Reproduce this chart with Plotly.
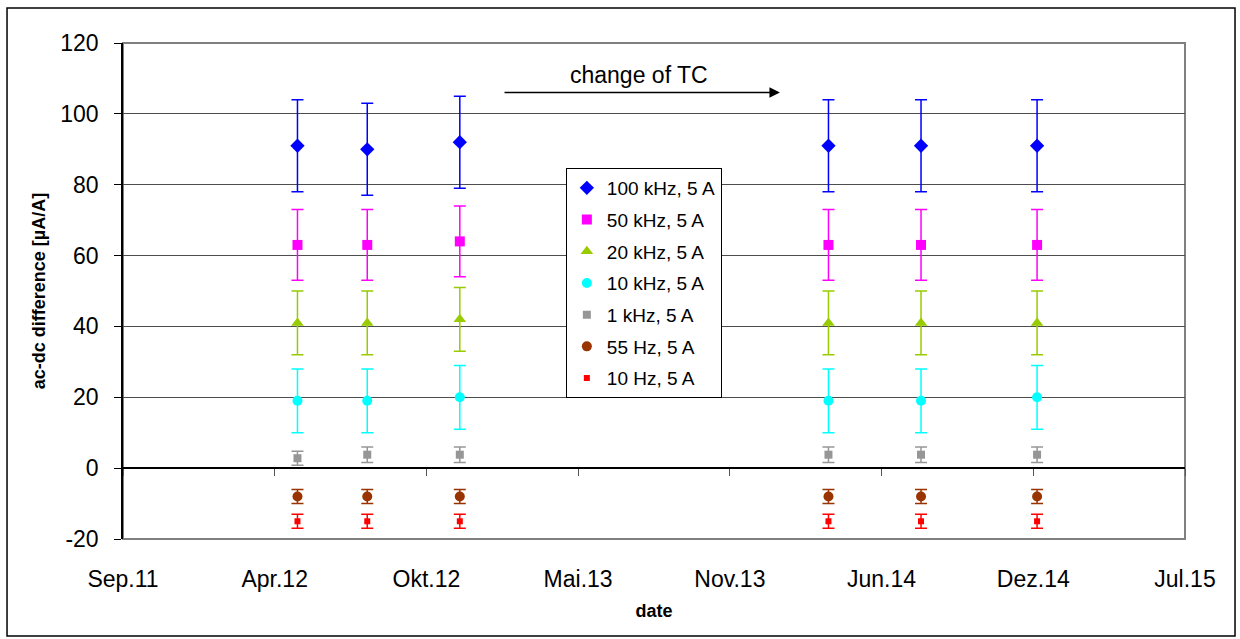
import plotly.graph_objects as go

# ---------------- data ----------------
dates = ["2012-05-01", "2012-08-01", "2012-12-01", "2014-04-01", "2014-08-01", "2015-01-01"]

series_names = ["100 kHz, 5 A", "50 kHz, 5 A", "20 kHz, 5 A", "10 kHz, 5 A",
                "1 kHz, 5 A", "55 Hz, 5 A", "10 Hz, 5 A"]

v_100k = [91, 90, 92, 91, 91, 91]
e_100k = [13, 13, 13, 13, 13, 13]
v_50k = [63, 63, 64, 63, 63, 63]
e_50k = [10, 10, 10, 10, 10, 10]
v_20k = [41, 41, 42, 41, 41, 41]
e_20k = [9, 9, 9, 9, 9, 9]
v_10k = [19, 19, 20, 19, 19, 20]
e_10k = [9, 9, 9, 9, 9, 9]
v_1k = [2.8, 3.8, 3.8, 3.8, 3.8, 3.8]
e_1k = [2.0, 2.2, 2.2, 2.2, 2.2, 2.2]
v_55 = [-8, -8, -8, -8, -8, -8]
e_55 = [2, 2, 2, 2, 2, 2]
v_10 = [-15, -15, -15, -15, -15, -15]
e_10 = [2, 2, 2, 2, 2, 2]

x_range = ["2011-09-14", "2015-07-15"]
x_tickvals = ["2011-09-14", "2012-04-01", "2012-10-18", "2013-05-06",
              "2013-11-22", "2014-06-10", "2014-12-27", "2015-07-15"]
x_ticktext = ["Sep.11", "Apr.12", "Okt.12", "Mai.13", "Nov.13", "Jun.14", "Dez.14", "Jul.15"]
y_range = [-20, 120]
y_tickvals = [-20, 0, 20, 40, 60, 80, 100, 120]
y_ticktext = ["-20", "0", "20", "40", "60", "80", "100", "120"]

tc_arrow_start = ("2013-01-27", 106)
tc_arrow_end = ("2014-01-27", 106)
tc_label_pos = ("2013-07-25", 111)

# ---------------- styles ----------------
values = [v_100k, v_50k, v_20k, v_10k, v_1k, v_55, v_10]
errors = [e_100k, e_50k, e_20k, e_10k, e_1k, e_55, e_10]
colors = ["#0000FF", "#FF00FF", "#99CC00", "#00FFFF", "#969696", "#993300", "#FF0000"]
symbols = ["diamond", "square", "triangle-up", "circle", "square", "circle", "square"]
sizes = [11, 10, 11, 10, 8, 10, 6]

FONT = "Liberation Sans, Arial, sans-serif"

fig = go.Figure()
for i in range(len(values)):
    fig.add_trace(go.Scatter(
        x=dates, y=values[i], name=series_names[i], mode="markers",
        legendgroup=f"g{i}",
        marker=dict(symbol=symbols[i], size=sizes[i], color=colors[i]),
        error_y=dict(type="data", array=errors[i], color=colors[i], thickness=1.5, width=6),
    ))

# dummy trace so that the zero-crossing tick axis is rendered
fig.add_trace(go.Scatter(x=[x_range[0]], y=[None], xaxis="x2", showlegend=False,
                         hoverinfo="skip", mode="markers"))

zero_pos = (0 - y_range[0]) / (y_range[1] - y_range[0])

fig.update_layout(
    width=1240, height=639,
    margin=dict(l=123, r=55, t=43, b=100, autoexpand=False),
    paper_bgcolor="white", plot_bgcolor="white",
    font=dict(family=FONT, color="black", size=23),
    showlegend=True,
    legend=dict(x=0.417, y=0.748, xanchor="left", yanchor="top",
                bgcolor="white", bordercolor="black", borderwidth=1,
                font=dict(size=19, family=FONT), traceorder="grouped",
                tracegroupgap=4, itemwidth=30),
    xaxis=dict(type="date", range=x_range, tickvals=x_tickvals, ticktext=x_ticktext,
               showgrid=False, showline=False, zeroline=False, ticks="",
               ticklabelstandoff=24, tickfont=dict(size=23),
               title=dict(text="<b>date</b>", font=dict(size=18), standoff=13)),
    xaxis2=dict(type="date", range=x_range, tickvals=x_tickvals, overlaying="x",
                anchor="free", position=zero_pos, showgrid=False,
                showline=True, linecolor="black", linewidth=1.5,
                ticks="outside", ticklen=7, tickwidth=1, tickcolor="#555555",
                showticklabels=False, zeroline=False),
    yaxis=dict(range=y_range, tickvals=y_tickvals, ticktext=y_ticktext,
               showgrid=True, gridcolor="#4d4d4d",
               gridwidth=1, zeroline=True, zerolinecolor="black", zerolinewidth=1.5,
               showline=True, linecolor="black", linewidth=1.5,
               ticks="outside", ticklen=7, tickcolor="black",
               ticklabelstandoff=11, tickfont=dict(size=23),
               title=dict(text="<b>ac-dc difference [µA/A]</b>", font=dict(size=18),
                          standoff=10)),
)

# plot-area border (gray) and chart border (black)
fig.add_shape(type="rect", xref="paper", yref="paper", x0=0, x1=1, y0=0, y1=1,
              line=dict(color="#808080", width=2), layer="below")
fig.add_shape(type="rect", xref="paper", yref="paper",
              x0=-0.1092, x1=1.0471, y0=-0.1956, y1=1.0706,
              line=dict(color="black", width=1.5), layer="below")

# change-of-TC arrow and label
fig.add_annotation(x=tc_arrow_end[0], y=tc_arrow_end[1], ax=tc_arrow_start[0], ay=tc_arrow_start[1],
                   xref="x", yref="y", axref="x", ayref="y", text="", showarrow=True,
                   arrowhead=2, arrowsize=1.4, arrowwidth=1.5, arrowcolor="black")
fig.add_annotation(x=tc_label_pos[0], y=tc_label_pos[1], xref="x", yref="y",
                   text="change of TC", showarrow=False, font=dict(size=23, family=FONT))

fig.write_html("out.html")
